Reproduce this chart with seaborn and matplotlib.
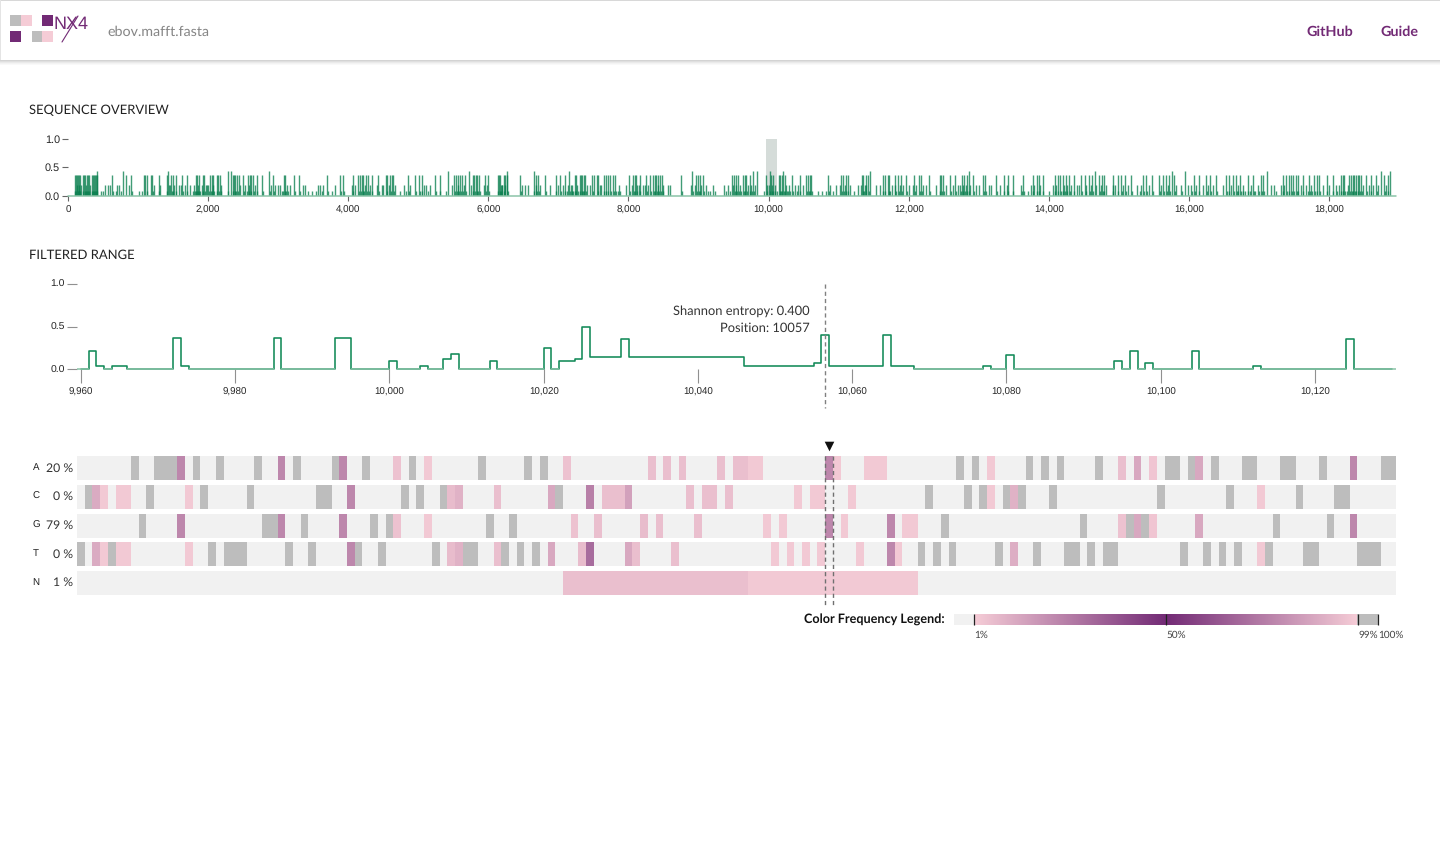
"""
Recreate the NX4 alignment view: entropy overview, filtered range and frequency grid
"""
import numpy as np
import pandas as pd
import matplotlib
matplotlib.use("Agg")
import matplotlib.pyplot as plt
from matplotlib.colors import LinearSegmentedColormap
from matplotlib.patches import Rectangle
import seaborn as sns

WIDTH, HEIGHT = 1440, 864

# overview entropy spikes, grouped by the level they reach
OVERVIEW_HIGH = [419, 781, 1433, 2290, 2323, 2875, 5431, 5717, 6268, 6648, 7157, 8911, 9777, 9834, 10015, 10205,
                 11441, 12858, 14660, 15758, 15944, 17118, 18740, 18873]
OVERVIEW_TALL = [100, 114, 129, 143, 157, 171, 214, 228, 243, 267, 281, 295, 338, 352, 367, 381, 395, 409, 633, 828,
                 900, 1090, 1104, 1123, 1185, 1200, 1295, 1409, 1471, 1495, 1537, 1628, 1695, 1828, 1847, 1875, 1923,
                 1947, 2028, 2052, 2075, 2123, 2147, 2171, 2351, 2370, 2390, 2409, 2442, 2504, 2575, 2599, 2618, 2637,
                 2694, 2766, 2932, 3084, 3103, 3227, 3304, 3694, 3884, 3932, 4065, 4146, 4170, 4194, 4217, 4255, 4289,
                 4337, 4432, 4541, 4560, 4598, 4622, 4646, 4860, 4955, 5012, 5050, 5241, 5303, 5512, 5541, 5574, 5598,
                 5631, 5669, 5774, 5798, 5826, 5845, 5869, 5955, 5993, 6131, 6150, 6169, 6264,
                 6220, 6244, 6458, 6686, 6710, 6814, 6962, 7028, 7090, 7233, 7247, 7304, 7323, 7342, 7361, 7380, 7485,
                 7504, 7551, 7570, 7647, 7675, 7708, 7742, 7780, 7813, 8008, 8065, 8089, 8113, 8160, 8255, 8312, 8350,
                 8374, 8398, 8426, 8455, 8484, 8754, 8968, 8992, 9016, 9064, 9477, 9506, 9539, 9568, 9634, 9658, 9682,
                 9729, 9967, 10038, 10062, 10148, 10167, 10186, 10228, 10338, 10443, 10538, 10561, 10585, 10609, 10847,
                 11037, 11061, 11099, 11132, 11336, 11355, 11384, 11417, 11631, 11655, 11702, 11726, 11807, 11845,
                 11893, 11964, 12083, 12145, 12178, 12297, 12440, 12463, 12487,
                 12596, 12668, 12763, 12796, 12829, 12924, 13058, 13096, 13248, 13357, 13414, 13485, 13638, 13771,
                 13828, 13856, 13913, 14085, 14127, 14161, 14199, 14246, 14294, 14356, 14460, 14522, 14579, 14617,
                 14722, 14760, 14783, 14912, 14983, 15031, 15093, 15173, 15349, 15387, 15473, 15578, 15635, 15673,
                 15720, 15792, 16077, 16139, 16243, 16300, 16386, 16529, 16567, 16633, 16671, 16733, 16838, 16918,
                 17033, 17061, 17337, 17385, 17423, 17456, 17489, 17527, 17551, 17622, 17717, 17789, 17826, 17860,
                 17965, 18050, 18169, 18193, 18217, 18288, 18312, 18336, 18360, 18383, 18407, 18431, 18455, 18526,
                 18597, 18669, 18787, 18835]
OVERVIEW_MID = [133, 162, 190, 257, 314, 528, 576, 600, 704, 733, 876, 1233, 1314, 1438, 1457, 1514, 1590, 1609, 1671,
                1742, 1804, 1857, 1909, 1966, 1980, 2004, 2066, 2190, 2456, 2532, 2590, 2671, 2894, 2956, 3004, 3028,
                3123, 3171, 3361, 3385, 3575, 3599, 3646, 3813, 4051, 4099, 4241, 4313, 4408, 4479, 4503, 4575, 4670,
                4789, 4884, 5075, 5113, 5170, 5479, 5560, 5646, 5750, 5931, 5979, 6193, 6241,
                6177, 6201, 6486, 6520, 6567, 6677, 6734, 6876, 6995, 7066, 7138, 7185, 7200, 7266, 7409, 7447, 7590,
                7613, 7865, 7970, 8056, 8122, 8151, 8208, 8231, 8279, 8422, 8493, 8564, 8598, 8897, 8945, 9040, 9111,
                9206, 9358, 9420, 9491, 9530, 9596, 9705, 9753, 9801, 9981, 10005, 10052, 10086, 10243, 10290, 10371,
                10419, 10490, 10871, 10966, 11023, 11085, 11165, 11275, 11322, 11370, 11394, 11536, 11593, 11764,
                11798, 11869, 11926, 12002, 12059, 12107, 12202, 12250, 12392, 12535,
                12630, 12701, 12734, 12782, 12820, 12877, 12962, 13000, 13143, 13176, 13305, 13400, 13604, 13747,
                13795, 13875, 14066, 14104, 14222, 14256, 14318, 14398, 14436, 14532, 14603, 14674, 14746, 14817,
                14915, 14950, 15055, 15126, 15254, 15316, 15435, 15602, 15697, 15815, 15887, 15982, 16029, 16101,
                16196, 16267, 16339, 16481, 16600, 16695, 16766, 16885, 16980, 17171, 17218, 17313, 17361, 17599,
                17670, 17741, 17908, 18003, 18098, 18145, 18264, 18478, 18564, 18630, 18706, 18811]
OVERVIEW_LOW = [107, 121, 136, 150, 164, 178, 221, 236, 250, 274, 288, 302, 345, 360, 374, 388, 402, 416, 470, 505,
                640, 690, 760, 910, 1010, 1060, 1130, 1210, 1305, 1420, 1480, 1505, 1545, 1635, 1700, 1790, 1812, 1820,
                1836, 1855, 1868, 1885, 1930, 1955, 2012, 2035, 2060, 2085, 2130, 2155, 2180, 2290, 2360, 2380, 2400,
                2420, 2516, 2560, 2585, 2610, 2650, 2700, 2780, 2885, 2940, 3050, 3075, 3095, 3110, 3135, 3235, 3310,
                3420, 3480, 3540, 3620, 3710, 3770, 3890, 3940, 4075, 4155, 4180, 4205, 4225, 4265, 4295, 4345, 4440,
                4550, 4610, 4655, 4745, 4830, 4870, 4965, 5020, 5060, 5145, 5250, 5310, 5400, 5520, 5550, 5585, 5610,
                5640, 5680, 5785, 5810, 5835, 5855, 5880, 5965, 6005, 6140, 6160, 6180, 6275, 6230, 6470, 6655, 6696,
                6720, 6825, 6970, 7035, 7100, 7120, 7165, 7192, 7210, 7240, 7255, 7275, 7315, 7332, 7352, 7370, 7390,
                7495, 7560, 7655, 7685, 7715, 7750, 7790, 7825, 7850, 7880, 8018, 8075, 8098, 8120, 8170, 8265, 8320,
                8360, 8385, 8410, 8436, 8465, 8495, 8764, 8920, 8980, 9002, 9025, 9075, 9130, 9170, 9230, 9390, 9450,
                9515, 9550, 9578, 9610, 9645, 9670, 9692, 9740, 9765, 9785, 9930, 9975, 10025, 10047, 10070, 10095,
                10125, 10158, 10176, 10195, 10215, 10238, 10260, 10275, 10300, 10348, 10400, 10452, 10548, 10570,
                10595, 10620, 10700, 10760, 10820, 10857, 10915, 11047, 11070, 11108, 11140, 11215, 11345, 11365,
                11395, 11427, 11640, 11665, 11712, 11735, 11815, 11855, 11900, 11975, 12092, 12155, 12187, 12307,
                12450, 12473, 12497, 12606, 12678, 12745, 12772, 12806, 12838, 12868, 12934, 13068, 13105, 13258,
                13366, 13423, 13496, 13612, 13648, 13700, 13780, 13838, 13865, 13920, 14010, 14095, 14136, 14170,
                14208, 14236, 14265, 14305, 14365, 14470, 14530, 14588, 14626, 14732, 14770, 14792, 14922, 14992,
                15040, 15102, 15182, 15300, 15358, 15396, 15482, 15587, 15644, 15682, 15730, 15800, 15900, 16040,
                16086, 16148, 16252, 16310, 16395, 16538, 16576, 16642, 16680, 16705, 16742, 16775, 16800, 16847,
                16870, 16927, 16950, 17000, 17042, 17070, 17250, 17346, 17394, 17432, 17465, 17498, 17536, 17560,
                17631, 17700, 17726, 17760, 17798, 17835, 17869, 17975, 18060, 18120, 18178, 18202, 18226, 18250,
                18297, 18321, 18345, 18369, 18392, 18416, 18440, 18464, 18535, 18606, 18678, 18796, 18845]
OVERVIEW_LEVELS = [0.44, 0.37, 0.20, 0.09]
OVERVIEW_TICKS = [0, 2000, 4000, 6000, 8000, 10000, 12000, 14000, 16000, 18000]

# filtered range, one entropy value per alignment position
FILTER_START = 9960
FILTER_ENTROPY = [0, .22, .043, 0, .043, .043, 0, 0, 0, 0,
                  0, 0, .364, .043, 0, 0, 0, 0, 0, 0,
                  0, 0, 0, 0, 0, .364, 0, 0, 0, 0,
                  0, 0, 0, .364, .364, 0, 0, 0, 0, 0,
                  .10, 0, 0, 0, .043, 0, 0, .12, .186, 0,
                  0, 0, 0, .10, 0, 0, 0, 0, 0, 0,
                  .25, 0, .10, .10, .12, .496, .14, .14, .14, .14,
                  .36, .14, .14, .14, .14, .14, .14, .14, .14, .14,
                  .14, .14, .14, .14, .14, .14, .04, .04, .04, .04,
                  .04, .04, .04, .04, .04, .08, .40, .04, .04, .04,
                  .04, .04, .04, .04, .40, .04, .04, .04, 0, 0,
                  0, 0, 0, 0, 0, 0, 0, .04, 0, 0,
                  .163, 0, 0, 0, 0, 0, 0, 0, 0, 0,
                  0, 0, 0, 0, .10, 0, .22, 0, .07, 0,
                  0, 0, 0, 0, .22, 0, 0, 0, 0, 0,
                  0, 0, .04, 0, 0, 0, 0, 0, 0, 0,
                  0, 0, 0, 0, .36, 0, 0, 0, 0, 0,
                  0]
FILTER_TICKS = [9960, 9980, 10000, 10020, 10040, 10060, 10080, 10100, 10120]
CURSOR_POS = 10057
CURSOR_ENTROPY = 0.400

# nucleotide grid: (offset in the filtered range, frequency in percent)
ROW_A = [(7, 100), (10, 100), (11, 100), (12, 100), (13, 22), (15, 100), (18, 100), (23, 100), (26, 22), (28, 100),
         (33, 100), (34, 22), (37, 100), (41, 4), (43, 100), (45, 2), (52, 100), (58, 100), (60, 100), (63, 4),
         (74, 5), (76, 5), (78, 5), (83, 5), (85, 5), (86, 5), (87, 2), (88, 2), (97, 22), (98, 2), (102, 2),
         (103, 2), (104, 2), (114, 100), (116, 100), (118, 2), (123, 100), (125, 100), (127, 100), (132, 100),
         (135, 5), (137, 12), (139, 3), (141, 100), (142, 100), (144, 100), (145, 12), (147, 100), (151, 100),
         (152, 100), (156, 100), (157, 100), (161, 100), (165, 22), (169, 100), (170, 100)]
ROW_C = [(1, 100), (2, 11), (3, 2), (5, 2), (6, 2), (9, 100), (14, 2), (16, 100), (22, 100), (31, 100), (32, 100),
         (35, 22), (42, 100), (44, 100), (47, 100), (48, 6), (49, 9), (54, 5), (61, 12), (62, 100), (66, 24),
         (68, 5), (69, 5), (70, 5), (71, 14), (79, 5), (81, 5), (82, 5), (84, 5), (93, 2), (95, 2), (96, 2),
         (100, 2), (110, 100), (115, 100), (117, 100), (118, 2), (120, 100), (121, 9), (122, 100), (126, 100),
         (140, 100), (149, 100), (153, 2), (158, 100), (163, 100), (164, 100)]
ROW_G = [(8, 100), (13, 22), (24, 100), (25, 100), (26, 22), (29, 100), (34, 22), (38, 100), (40, 100), (41, 4),
         (45, 2), (53, 100), (56, 100), (64, 4), (67, 5), (73, 6), (75, 5), (80, 5), (89, 2), (91, 2), (97, 22),
         (99, 2), (105, 22), (107, 2), (108, 2), (112, 100), (130, 100), (135, 4), (136, 100), (137, 12),
         (138, 100), (139, 3), (145, 12), (155, 100), (162, 100), (165, 22)]
ROW_T = [(0, 100), (2, 11), (3, 2), (4, 100), (5, 2), (6, 2), (14, 2), (17, 100), (19, 100), (20, 100), (21, 100),
         (27, 100), (30, 100), (35, 22), (36, 100), (39, 100), (46, 100), (48, 6), (49, 9), (50, 100), (51, 100),
         (54, 5), (55, 100), (57, 100), (59, 100), (61, 12), (65, 6), (66, 30), (71, 12), (72, 5), (77, 5),
         (90, 2), (92, 2), (94, 2), (96, 2), (101, 2), (105, 22), (106, 2), (109, 100), (111, 100), (113, 100),
         (119, 100), (121, 10), (124, 100), (128, 100), (129, 100), (131, 100), (133, 100), (134, 100), (143, 100),
         (146, 100), (148, 100), (150, 100), (153, 2), (154, 100), (159, 100), (160, 100), (166, 100), (167, 100),
         (168, 100)]
ROW_N = [(i, 5) for i in range(63, 87)] + [(i, 2) for i in range(87, 109)]
ROW_NAMES = ["A", "C", "G", "T", "N"]
ROW_PERCENTS = ["20 %", "0 %", "79 %", "0 %", "1 %"]

LEGEND_TICKS = ["1%", "50%", "99%", "100%"]

GREEN = "#128a58"
GREEN_LIGHT = "#8cc4a8"
PURPLE = "#722a75"
TEXT_FONT = ["Lato", "DejaVu Sans"]

sns.set_style("white")
plt.rcParams["font.family"] = ["Liberation Sans", "DejaVu Sans"]
plt.rcParams["text.hinting"] = "no_hinting"

# 0 is the empty colour, 1-99 runs pink to purple and back, only the top of the scale is grey
freq_cmap = LinearSegmentedColormap.from_list(
    "nx4_freq",
    [(0, "#f1f1f1"), (0.0099, "#f1f1f1"), (0.01, "#f5ccd6"), (0.5, PURPLE), (0.99, "#f5ccd6"),
     (0.9901, "#bdbdbd"), (1, "#bdbdbd")],
    N=2048,
)


def px_axes(fig, left, top, right, bottom):
    """Add axes placed by pixel edges, measured from the top left"""
    ax = fig.add_axes([left / WIDTH, 1 - bottom / HEIGHT, (right - left) / WIDTH, (bottom - top) / HEIGHT])
    ax.patch.set_alpha(0)
    return ax


def style_entropy_axis(ax, ticks, xtick_len, ytick_len, tick_color, ylabel_size):
    sns.despine(ax=ax, left=True, bottom=True)
    ax.set_ylim(0, 1)
    ax.set_yticks([0, 0.5, 1.0])
    ax.set_yticklabels(["0.0", "0.5", "1.0"])
    ax.set_xticks(ticks)
    ax.set_xticklabels([f"{t:,}" for t in ticks])
    ax.tick_params(axis="x", length=xtick_len, width=0.8, color=tick_color, labelsize=7, pad=3, bottom=True)
    ax.tick_params(axis="y", length=ytick_len, width=0.8, color=tick_color, labelsize=ylabel_size, pad=1.5, left=True)
    ax.set_xlabel("")
    ax.set_ylabel("")


def draw_header(fig):
    ax = px_axes(fig, 0, 0, WIDTH, HEIGHT)
    ax.set_xlim(0, WIDTH)
    ax.set_ylim(HEIGHT, 0)
    ax.axis("off")
    for i, alpha in enumerate([0.30, 0.22, 0.14, 0.08, 0.04]):
        ax.add_patch(Rectangle((0, 60 + i), WIDTH, 1, color="#707070", alpha=alpha, lw=0))
    ax.add_patch(Rectangle((0, 0), WIDTH, 1.2, color="#d8d8d8", lw=0))
    ax.add_patch(Rectangle((0, 0), 1.2, 60, color="#e4e4e4", lw=0))
    # logo blocks
    for x, y, c in [(10, 15, "#bdbdbd"), (21, 15, "#f5ccd6"), (42, 15, PURPLE),
                    (10, 31, PURPLE), (32, 31, "#bdbdbd"), (42, 31, "#f5ccd6")]:
        ax.add_patch(Rectangle((x, y), 11, 10.5, color=c, lw=0))
    ax.text(54, 24, "NX4", color=PURPLE, fontsize=13, va="center", ha="left",
            family=["Liberation Sans Narrow", "Liberation Sans"])
    ax.plot([62, 78], [42, 16], color=PURPLE, lw=0.8)
    ax.text(107, 32, "ebov.mafft.fasta", color="#858585", fontsize=10.3, va="center", family=TEXT_FONT)
    ax.text(1306, 32, "GitHub", color=PURPLE, fontsize=10.4, va="center", family=TEXT_FONT, fontweight="bold")
    ax.text(1380.5, 32, "Guide", color=PURPLE, fontsize=10.4, va="center", family=TEXT_FONT, fontweight="bold")
    ax.text(29, 110.5, "SEQUENCE OVERVIEW", color="#222222", fontsize=9.4, va="center", family=TEXT_FONT)
    ax.text(29, 255.5, "FILTERED RANGE", color="#222222", fontsize=9.4, va="center", family=TEXT_FONT)
    ax.text(810, 311.5, f"Shannon entropy: {CURSOR_ENTROPY:.3f}", color="#333333", fontsize=9.3, va="center",
            ha="right", family=TEXT_FONT)
    ax.text(810, 328, f"Position: {CURSOR_POS}", color="#333333", fontsize=9.3, va="center", ha="right",
            family=TEXT_FONT)
    ax.text(945, 620, "Color Frequency Legend:", color="#111111", fontsize=9.1, va="center", ha="right",
            family=TEXT_FONT, fontweight="bold")
    pitch = 28.75
    for i, (name, pct) in enumerate(zip(ROW_NAMES, ROW_PERCENTS)):
        ax.text(36, 467.5 + i * pitch, name, fontsize=7, va="center", ha="center", color="#222222")
        ax.text(73.5, 468 + i * pitch, pct, fontsize=8.8, va="center", ha="right", color="#333333", family=TEXT_FONT)


def draw_overview(fig, x_max):
    ax = px_axes(fig, 68, 138.5, 1396, 196)
    start = FILTER_START - 0.5
    ax.axvspan(start, start + len(FILTER_ENTROPY) - 14, color="#d5dcd9", lw=0, zorder=0)
    groups = [OVERVIEW_HIGH, OVERVIEW_TALL, OVERVIEW_MID, OVERVIEW_LOW]
    for positions, level in zip(groups, OVERVIEW_LEVELS):
        ax.vlines(positions, 0, level, color="#0b8050", alpha=0.78, lw=1.0, zorder=2)
    base = pd.DataFrame({"position": [0, x_max], "entropy": [0, 0]})
    sns.lineplot(data=base, x="position", y="entropy", ax=ax, color=GREEN_LIGHT, lw=1.1, clip_on=False, zorder=3)
    ax.set_xlim(0, x_max)
    style_entropy_axis(ax, OVERVIEW_TICKS, 3.6, 4.3, "#666666", 7.8)


def draw_filtered(fig):
    ax = px_axes(fig, 77, 283.5, 1396, 369.5)
    df = pd.DataFrame({"position": FILTER_START + np.arange(len(FILTER_ENTROPY)), "entropy": FILTER_ENTROPY})
    sns.lineplot(data=df, x="position", y="entropy", ax=ax, color=GREEN, lw=1.15, drawstyle="steps-post",
                 estimator=None, clip_on=False, zorder=2)
    # zero stretches read as a paler, thinner line
    x_min = FILTER_START - 0.5
    x_max = FILTER_START + len(FILTER_ENTROPY) - 0.5
    zero = df[df["entropy"] == 0]["position"].to_numpy(dtype=float)
    ax.hlines(np.zeros(len(zero)), zero, np.minimum(zero + 1, x_max), color=GREEN_LIGHT, lw=1.1, zorder=3,
              clip_on=False)
    ax.hlines(0, x_min, FILTER_START, color=GREEN_LIGHT, lw=1.1, zorder=3, clip_on=False)
    ax.set_xlim(x_min, x_max)
    style_entropy_axis(ax, FILTER_TICKS, 10, 7.2, "#909090", 7.5)
    ax.plot([CURSOR_POS - 0.5] * 2, [1.0, -0.45], color="#808080", lw=1.0, ls=(0, (3, 2.2)), clip_on=False, zorder=4)


def draw_grid(fig):
    n = len(FILTER_ENTROPY)
    pitch = 28.75
    for i, row in enumerate([ROW_A, ROW_C, ROW_G, ROW_T, ROW_N]):
        values = np.zeros((1, n))
        for offset, freq in row:
            values[0, offset] = freq
        ax = px_axes(fig, 77, 456 + i * pitch, 1396, 480 + i * pitch)
        sns.heatmap(pd.DataFrame(values), ax=ax, cmap=freq_cmap, vmin=0, vmax=100, cbar=False,
                    xticklabels=False, yticklabels=False)
    # cursor over the grid, x in alignment positions and y in pixels
    ax = px_axes(fig, 77, 0, 1396, HEIGHT)
    ax.set_xlim(FILTER_START - 0.5, FILTER_START + n - 0.5)
    ax.set_ylim(HEIGHT, 0)
    ax.axis("off")
    for x in [CURSOR_POS - 0.5, CURSOR_POS + 0.5]:
        ax.plot([x, x], [456, 606], color="#707070", lw=1.0, ls=(0, (3, 2.2)))
    ax.scatter([CURSOR_POS], [446], marker="v", s=48, color="#111111", lw=0)


def draw_legend(fig):
    scale = np.concatenate([np.zeros(20), np.linspace(1, 99, 384), np.full(20, 100.0)])
    ax = px_axes(fig, 954, 614, 1378, 625)
    sns.heatmap(pd.DataFrame(scale.reshape(1, -1)), ax=ax, cmap=freq_cmap, vmin=0, vmax=100, cbar=False,
                xticklabels=False, yticklabels=False)
    positions = [20, 212, 404, 424]
    ax.vlines(positions, 0, 1, color="#222222", lw=0.9, clip_on=False)
    for pos, label in zip(positions, LEGEND_TICKS):
        ax.text(pos, 1.95, label, fontsize=7.2, color="#444444", va="center", ha="left", family=TEXT_FONT)


def main():
    fig = plt.figure(figsize=(WIDTH / 100, HEIGHT / 100), dpi=100, facecolor="white")
    draw_overview(fig, 18956)
    draw_filtered(fig)
    draw_grid(fig)
    draw_legend(fig)
    draw_header(fig)
    fig.savefig("out.png", dpi=100, facecolor="white")
    plt.close(fig)


if __name__ == "__main__":
    main()
